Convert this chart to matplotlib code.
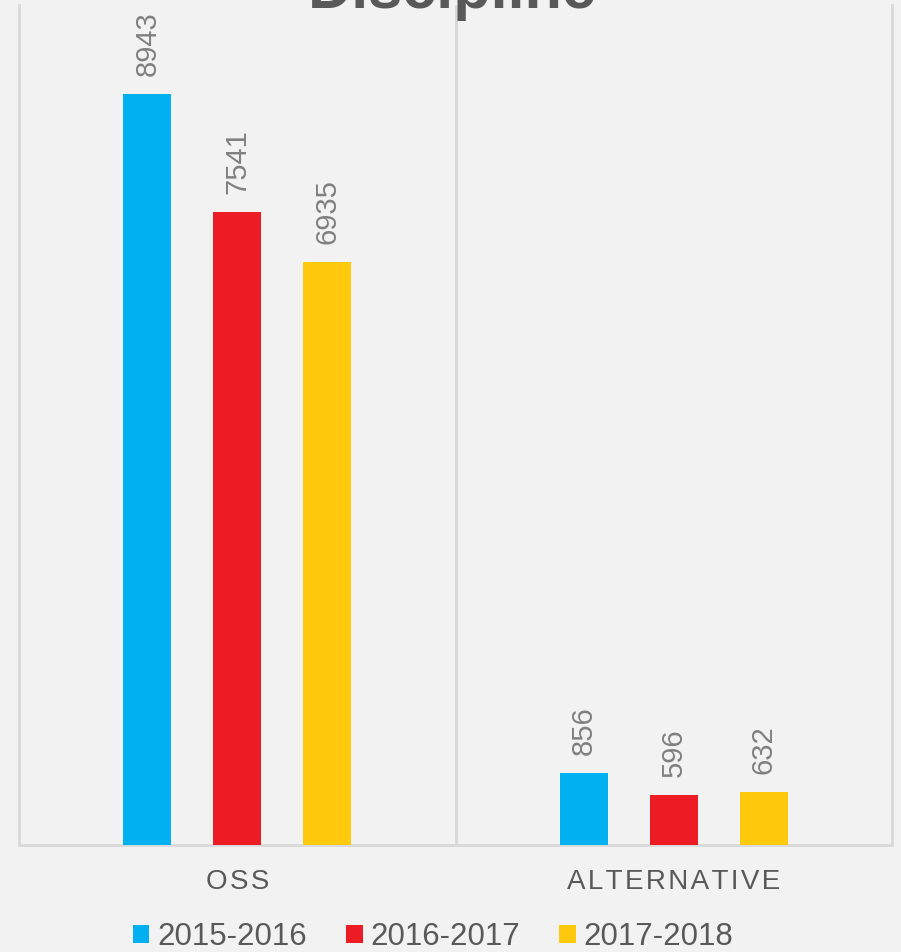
import matplotlib
matplotlib.use("Agg")
import matplotlib.pyplot as plt
from matplotlib.patches import Patch
import matplotlib.transforms as mtransforms

# ---------- DATA ----------
categories = ["OSS", "ALTERNATIVE"]
years = ["2015-2016", "2016-2017", "2017-2018"]
values_2015 = [8943, 856]
values_2016 = [7541, 596]
values_2017 = [6935, 632]
series = [values_2015, values_2016, values_2017]
colors = ["#00B0F0", "#ED1C24", "#FFC90E"]

BG = "#F2F2F2"
GRID = "#D9D9D9"
DARK = "#595959"
LABEL = "#808080"
FONT = ["Liberation Sans", "DejaVu Sans"]

plt.rcParams["font.family"] = FONT

W, H = 901, 952
fig = plt.figure(figsize=(W / 100, H / 100), dpi=100, facecolor=BG)
ax = fig.add_axes([19 / W, 1 - 845 / H, (892 - 19) / W, (845 - 5) / H])
ax.set_facecolor(BG)

# ---------- BARS ----------
offsets = [-0.206, 0.0, 0.206]
bar_w = 0.11
xs = list(range(len(categories)))
for vals, off, col in zip(series, offsets, colors):
    bars = ax.bar([x + off for x in xs], vals, width=bar_w, color=col, zorder=3)
    for b, v in zip(bars, vals):
        ax.annotate(str(v), (b.get_x() + b.get_width() / 2, b.get_height()),
                    xytext=(0, 13), textcoords="offset points",
                    rotation=90, ha="center", va="bottom",
                    fontsize=21, color=LABEL)

ax.set_xlim(-0.5, len(categories) - 0.5)
ax.set_ylim(0, 10000)

# ---------- AXES ----------
ax.spines["top"].set_visible(False)
for s in ["left", "right", "bottom"]:
    ax.spines[s].set_color(GRID)
    ax.spines[s].set_linewidth(2)
for i in range(1, len(categories)):
    ax.axvline(i - 0.5, color=GRID, lw=2, zorder=1)
ax.set_xticks([])
ax.set_yticks([])

# category labels with a little letter spacing
trans = mtransforms.blended_transform_factory(ax.transData, ax.transAxes)
for x, c in zip(xs, categories):
    ax.text(x, -44 / 840, "\u200a".join(c), transform=trans, ha="center",
            va="baseline", fontsize=20, color=DARK, family=FONT)

# ---------- TITLE ----------
fig.text(452 / W, 1 - 8 / H, "Discipline", ha="center", va="baseline",
         fontsize=44, fontweight="bold", color=DARK)

# ---------- LEGEND ----------
handles = [Patch(facecolor=c, edgecolor="none") for c in colors]
leg = fig.legend(handles, years, loc="lower center", ncol=3, frameon=False,
                 bbox_to_anchor=(0.481, -0.013), fontsize=22.5,
                 handlelength=0.52, handleheight=0.52, handletextpad=0.26,
                 columnspacing=1.25, borderaxespad=0)
for t in leg.get_texts():
    t.set_color(DARK)

fig.savefig("out.png", dpi=100, facecolor=BG)
